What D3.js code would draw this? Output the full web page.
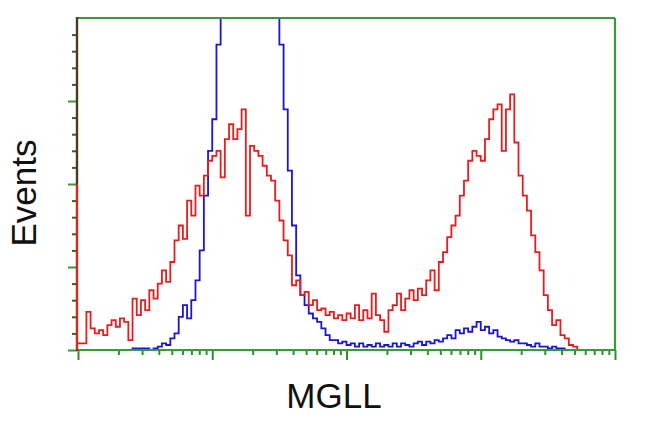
<!DOCTYPE html>
<html>
<head>
<meta charset="utf-8">
<script src="https://cdn.jsdelivr.net/npm/d3@7"></script>
<style>
  html, body { margin: 0; padding: 0; background: #ffffff; }
  svg { display: block; }
</style>
</head>
<body>
<svg id="chart" width="650" height="432"></svg>
<script>
// ---- data (128 log-spaced channels across 10^0 .. 10^4) ----
const nBins = 128;
const xDomain = [1, 10000];
const yDomain = [0, 200];

const redCounts = [
  100, 4, 23, 13, 10, 12, 9, 15, 18, 14, 19, 17, 6, 31, 21, 30,
  24, 36, 31, 40, 48, 41, 53, 66, 75, 67, 90, 81, 99, 93, 105, 114,
  117, 120, 104, 127, 136, 127, 133, 145, 81, 123, 120, 117, 111, 105, 102, 90,
  78, 66, 57, 39, 42, 33, 35, 27, 30, 24, 25, 21, 23, 19, 21, 18,
  22, 19, 27, 18, 24, 19, 34, 21, 18, 11, 24, 27, 34, 24, 31, 36,
  30, 37, 33, 42, 48, 36, 53, 59, 68, 75, 81, 93, 102, 114, 120, 117,
  114, 127, 139, 145, 148, 120, 145, 154, 125, 105, 93, 84, 69, 59, 48, 33,
  24, 15, 18, 9, 7, 3, 2, 0, 0, 0, 0, 0, 0, 0, 0, 0
];

const blueCounts = [
  0, 0, 0, 0, 0, 0, 0, 0, 0, 0, 0, 0, 0, 1, 1, 1,
  1, 0, 1, 2, 4, 3, 7, 10, 20, 27, 19, 30, 42, 60, 93, 120,
  139, 184, 220, 245, 270, 290, 300, 305, 305, 300, 290, 280, 265, 250, 235, 215,
  184, 145, 108, 75, 45, 33, 27, 22, 19, 17, 13, 9, 6, 6, 4, 5,
  3, 4, 2, 4, 2, 3, 2, 4, 2, 3, 2, 4, 2, 4, 3, 2,
  4, 5, 3, 5, 4, 6, 5, 7, 9, 7, 12, 10, 13, 11, 14, 17,
  12, 14, 10, 12, 8, 7, 6, 5, 6, 4, 4, 3, 2, 4, 2, 2,
  1, 2, 1, 1, 0, 0, 0, 0, 0, 0, 0, 0, 0, 0, 0, 0
];

const xMajorTicks = [1, 10, 100, 1000, 10000];
const yMajorTicks = [0, 50, 100, 150];
const xLabel = "MGLL";
const yLabel = "Events";

(function () {
const pL = 77, pR = 615, pT = 18, pB = 350;
const svg = d3.select("#chart");

const x = d3.scaleLog().domain(xDomain).range([pL + 1, pR]);
const y = d3.scaleLinear().domain(yDomain).range([pB, pT]);

const xMinorTicks = [];
for (let d = 0; d < 4; d++) for (let k = 2; k <= 9; k++) xMinorTicks.push(k * Math.pow(10, d));
const yMinorTicks = d3.range(10, 200, 10).filter(v => v % 50 !== 0);

const binEdge = i => Math.pow(10, 4 * i / nBins);

// the first (off-scale pile-up) channel is drawn as a spike on the axis
function seriesPoints(counts) {
  const pts = counts.map((c, i) => [binEdge(i), i === 0 ? counts[1] : c]);
  pts.push([binEdge(nBins), counts[counts.length - 1]]);
  return pts;
}

svg.append("defs").append("clipPath").attr("id", "plotclip")
  .append("rect").attr("x", pL).attr("y", pT).attr("width", pR - pL).attr("height", pB - pT);

const line = d3.line()
  .x(d => x(d[0]))
  .y(d => y(d[1]))
  .curve(d3.curveStepAfter);

const plot = svg.append("g").attr("clip-path", "url(#plotclip)");

plot.append("path")
  .datum(seriesPoints(blueCounts))
  .attr("d", line)
  .attr("fill", "none")
  .attr("stroke", "#1a14d8")
  .attr("stroke-width", 1.8);

plot.append("path")
  .datum(seriesPoints(redCounts))
  .attr("d", line)
  .attr("fill", "none")
  .attr("stroke", "#e81c1c")
  .attr("stroke-width", 1.8);

const green = "#3a9a3a";
svg.append("line").attr("x1", pL).attr("x2", pR).attr("y1", pT).attr("y2", pT)
  .attr("stroke", green).attr("stroke-width", 2.2);
svg.append("line").attr("x1", pR).attr("x2", pR).attr("y1", pT).attr("y2", pB)
  .attr("stroke", green).attr("stroke-width", 2.2);

const xAxisMajor = d3.axisBottom(x).tickValues(xMajorTicks).tickSize(10).tickFormat("");
const xAxisMinor = d3.axisBottom(x).tickValues(xMinorTicks).tickSize(5).tickFormat("");
const gxMin = svg.append("g").attr("transform", `translate(0,${pB})`).call(xAxisMinor);
const gxMaj = svg.append("g").attr("transform", `translate(0,${pB})`).call(xAxisMajor);
[gxMin, gxMaj].forEach(g => {
  g.select(".domain").remove();
  g.selectAll(".tick line").attr("stroke", "#348a34").attr("stroke-width", 2);
});
svg.append("line").attr("x1", pL - 1).attr("x2", pR + 1).attr("y1", pB).attr("y2", pB)
  .attr("stroke", green).attr("stroke-width", 2.2);

const yAxisMajor = d3.axisLeft(y).tickValues(yMajorTicks).tickSize(9).tickFormat("");
const yAxisMinor = d3.axisLeft(y).tickValues(yMinorTicks).tickSize(5).tickFormat("");
const gyMin = svg.append("g").attr("transform", `translate(${pL},0)`).call(yAxisMinor);
const gyMaj = svg.append("g").attr("transform", `translate(${pL},0)`).call(yAxisMajor);
[gyMin, gyMaj].forEach(g => {
  g.select(".domain").remove();
  g.selectAll(".tick line").attr("stroke", "#3f5a2c").attr("stroke-width", 2);
});
gyMaj.selectAll(".tick line").attr("stroke", green);
svg.append("line").attr("x1", pL).attr("x2", pL).attr("y1", pT - 1).attr("y2", pB + 1)
  .attr("stroke", "#4a3c1c").attr("stroke-width", 2.4);
svg.append("line").attr("x1", pL).attr("x2", pL).attr("y1", y(redCounts[0])).attr("y2", pB)
  .attr("stroke", "#d8281c").attr("stroke-width", 2);

svg.append("text")
  .attr("x", 334).attr("y", 408)
  .attr("text-anchor", "middle")
  .attr("font-family", "Liberation Sans, Arial, sans-serif")
  .attr("font-size", 35)
  .attr("fill", "#111")
  .text(xLabel);

svg.append("text")
  .attr("transform", "translate(36,193) rotate(-90)")
  .attr("text-anchor", "middle")
  .attr("font-family", "Liberation Sans, Arial, sans-serif")
  .attr("font-size", 35)
  .attr("fill", "#111")
  .text(yLabel);
})();
</script>
</body>
</html>
